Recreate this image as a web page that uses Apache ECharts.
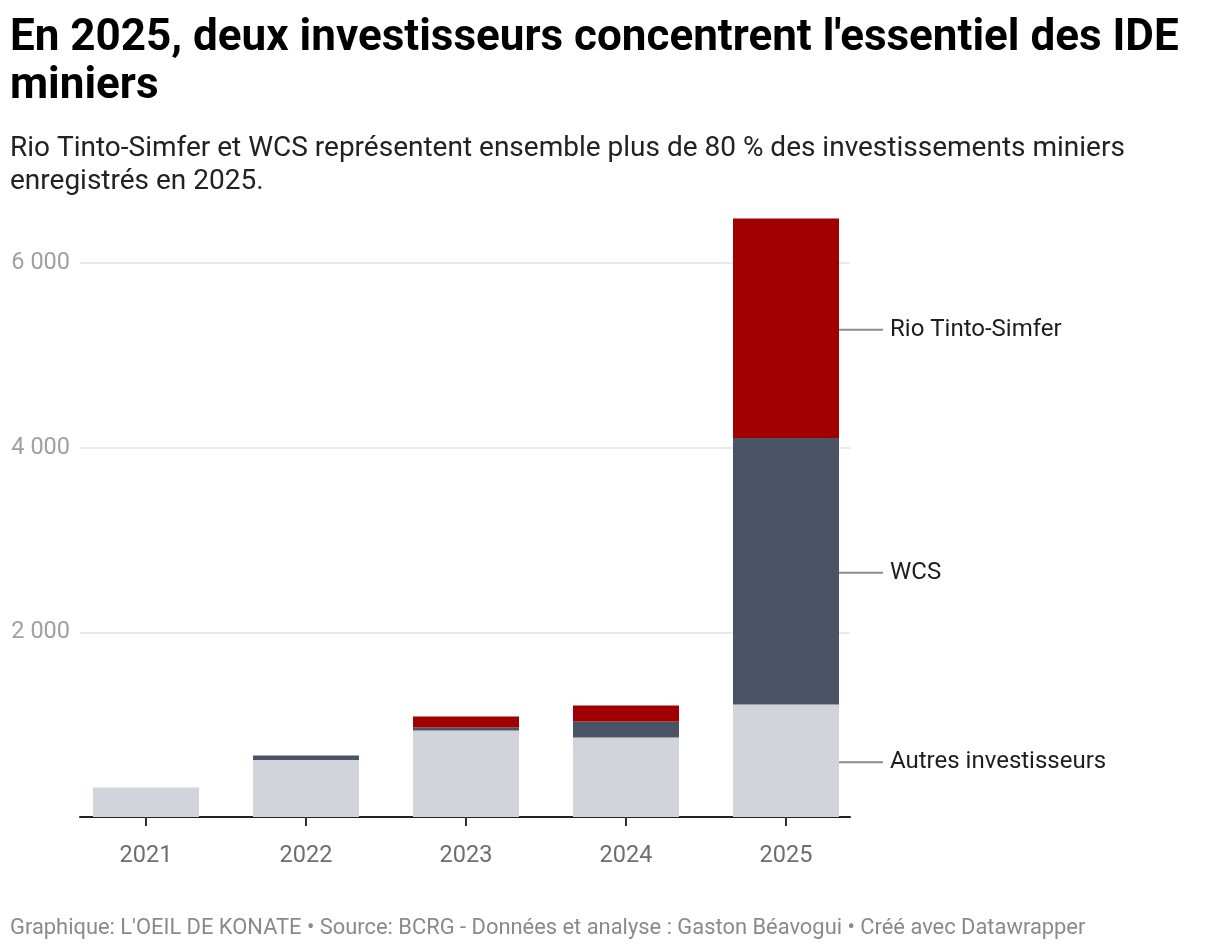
<!doctype html>
<html lang="fr">
  <head>
    <meta charset="utf-8">
    <title>IDE miniers 2021-2025</title>
    <script src="https://cdn.jsdelivr.net/npm/echarts@6.0.0/dist/echarts.min.js"></script>
    <style>
      html, body { margin: 0; padding: 0; background: #fff; }
      #chart { width: 1220px; height: 950px; }
    </style>
  </head>
  <body>
    <div id="chart"></div>

  <script>
    // data (millions USD, approx.)
    var years = ['2021', '2022', '2023', '2024', '2025'];
    var autres = [320, 616, 937, 862, 1218];
    var wcs = [0, 51, 33, 173, 2887];
    var rio = [0, 0, 119, 172, 2378];
    var yTicks = [0, 2000, 4000, 6000];

    var seriesNames = ['Autres investisseurs', 'WCS', 'Rio Tinto-Simfer'];
    var seriesColors = ['#d1d4db', '#4a5466', '#a00000'];

    var font = 'Roboto, "Noto Sans", sans-serif';
    var chart = echarts.init(document.getElementById('chart'), null, { renderer: 'canvas' });

    // x is a value axis on the year index, so the axis line can stop short of the outer bars
    var yearIdx = years.map(function (y, i) { return i; });

    // value first so the stack runs on it; label only on the last bar
    function toData(values) {
      return values.map(function (v, i) {
        if (i !== values.length - 1) return [v, i];
        return { value: [v, i], label: { show: true } };
      });
    }

    function makeSeries(name, values, color) {
      return {
        name: name,
        type: 'bar',
        stack: 'total',
        encode: { x: 1, y: 0 },
        barWidth: 106,
        clip: false,
        itemStyle: { color: color },
        emphasis: { disabled: true },
        label: {
          show: false,
          position: 'right',
          distance: 0,
          offset: [0, 1.5],
          formatter: '{l|}{t|' + name + '}',
          rich: {
            l: { width: 44, height: 2, backgroundColor: '#8c8c8c' },
            t: { fontFamily: font, fontSize: 24, color: '#1d1d1d', padding: [0, 0, 0, 7] }
          }
        },
        data: toData(values)
      };
    }

    var option = {
      animation: false,
      textStyle: { fontFamily: font },
      title: [
        {
          text: "En 2025, deux investisseurs concentrent l'essentiel des IDE\nminiers",
          subtext: 'Rio Tinto-Simfer et WCS représentent ensemble plus de 80 % des investissements miniers\nenregistrés en 2025.',
          left: 10,
          top: 15,
          padding: 0,
          itemGap: 21,
          textStyle: { fontFamily: font, fontSize: 44, fontWeight: 'bold', color: '#000', lineHeight: 48 },
          subtextStyle: { fontFamily: font, fontSize: 28, color: '#222', lineHeight: 33 }
        },
        {
          text: "Graphique: L'OEIL DE KONATE • Source: BCRG - Données et analyse : Gaston Béavogui • Créé avec Datawrapper",
          left: 10,
          top: 917,
          padding: 0,
          textStyle: { fontFamily: font, fontSize: 21.9, fontWeight: 'normal', color: '#8a8a8a', lineHeight: 24 }
        }
      ],
      grid: { left: 80, top: 263, width: 770, height: 554, containLabel: false },
      xAxis: {
        type: 'value',
        min: -0.4125,
        max: 4.4,
        splitLine: { show: false },
        axisLine: { onZero: false, lineStyle: { color: '#222', width: 2 } },
        axisTick: { show: true, customValues: yearIdx, length: 9, lineStyle: { color: '#333', width: 2 } },
        axisLabel: {
          customValues: yearIdx,
          fontFamily: font, fontSize: 23.5, color: '#6e6e6e', margin: 27,
          formatter: function (v) { return years[Math.round(v)]; }
        }
      },
      yAxis: {
        type: 'value',
        min: yTicks[0],
        max: yTicks[yTicks.length - 1],
        interval: 2000,
        axisLine: { show: false },
        axisTick: { show: false },
        axisLabel: {
          fontFamily: font, fontSize: 23.5, color: '#a0a0a0', margin: 10,
          formatter: function (v) { return v === 0 ? '' : String(v).replace(/\B(?=(\d{3})+(?!\d))/g, ' '); }
        },
        splitLine: { lineStyle: { color: '#e3e3e3', width: 1.5 } }
      },
      series: [
        makeSeries(seriesNames[0], autres, seriesColors[0]),
        makeSeries(seriesNames[1], wcs, seriesColors[1]),
        makeSeries(seriesNames[2], rio, seriesColors[2])
      ]
    };

    chart.setOption(option);
  </script>
  </body>
</html>
